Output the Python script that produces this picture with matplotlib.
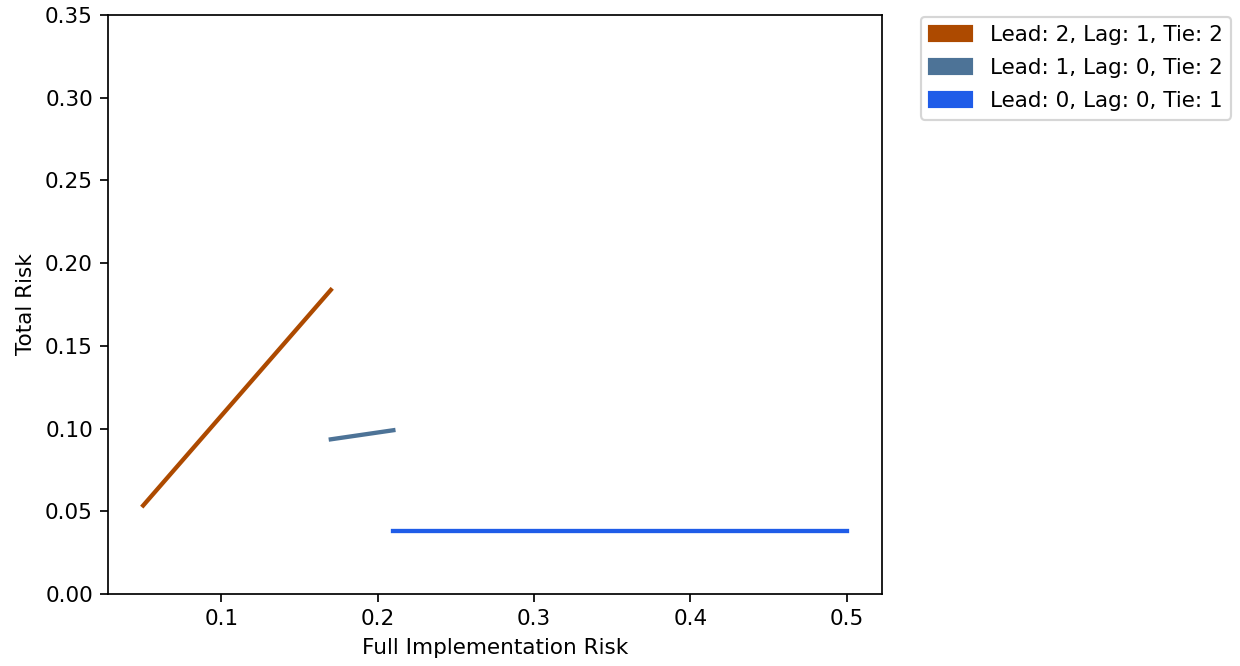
import matplotlib
matplotlib.use("Agg")
import matplotlib.pyplot as plt
import matplotlib.patches as mpatches

# segment data (Full Implementation Risk vs Total Risk)
labels = ["Lead: 2, Lag: 1, Tie: 2", "Lead: 1, Lag: 0, Tie: 2", "Lead: 0, Lag: 0, Tie: 1"]
colors = ["#AD4A00", "#4D7397", "#1F5CE8"]
x_vals = [[0.05, 0.17], [0.17, 0.21], [0.21, 0.50]]
y_vals = [[0.0535, 0.1838], [0.0935, 0.0990], [0.0382, 0.0382]]

DPI = 155
fig = plt.figure(figsize=(1240 / DPI, 666 / DPI), dpi=DPI)
ax = fig.add_axes([108 / 1240, 1 - 594 / 666, (882 - 108) / 1240, (594 - 15) / 666])

for xs, ys, c in zip(x_vals, y_vals, colors):
    ax.plot(xs, ys, color=c, linewidth=2)

ax.set_ylim(0, 0.35)
ax.set_xlabel('Full Implementation Risk')
ax.set_ylabel('Total Risk')

handles = [mpatches.Patch(color=c, label=l) for c, l in zip(colors, labels)]
ax.legend(handles=handles, bbox_to_anchor=(1.05, 0.997), loc='upper left',
          borderaxespad=0, labelspacing=0.6)

fig.savefig('out.png', dpi=DPI)
